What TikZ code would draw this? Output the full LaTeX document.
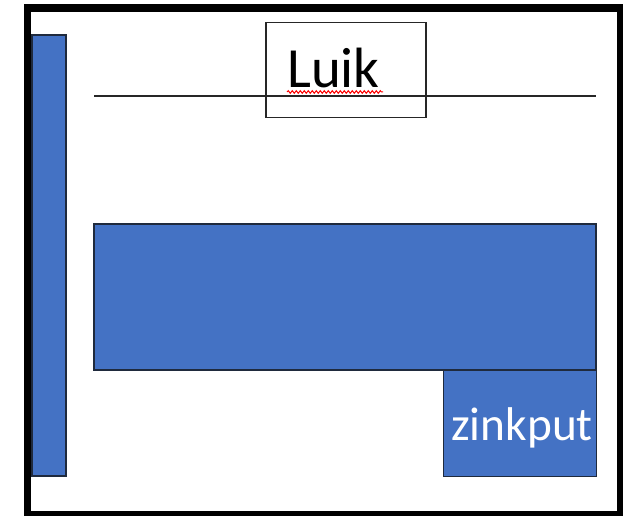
\documentclass[tikz,border=0pt]{standalone}
\usepackage{fontspec}
\setmainfont{Carlito}
\usetikzlibrary{decorations.pathmorphing}
\definecolor{blu}{HTML}{4472C4}
\definecolor{edge}{HTML}{1F2A3D}
\begin{document}
\begin{tikzpicture}[x=1bp,y=-1bp,
  bluebox/.style={fill=blu,draw=edge,line width=1.3bp},
  framebox/.style={draw=black,line width=7.5bp}]
\useasboundingbox (0,0) rectangle (623,516);
\draw[framebox] (27.5,8) rectangle (620.5,515);
\draw[bluebox] (32,35) rectangle (66,476);
\draw[bluebox] (94,224) rectangle (596,370);
\node[bluebox,minimum width=153bp,minimum height=106bp,inner sep=0pt,anchor=north west] (zink) at (443,370) {};
\node[anchor=base,text=white,font=\fontsize{47.5}{50}\selectfont,inner sep=0pt] (zt) at (522,440) {zinkput};
\coordinate (la) at (94,96);
\coordinate (lb) at (596,96);
\draw[line width=1.3bp,black!85] (la) -- (lb);
\node[draw=black!85,line width=1.5bp,minimum width=160bp,minimum height=95bp,inner sep=0pt,anchor=north west] (luikbox) at (265,22) {};
\node[anchor=base west,font=\fontsize{57}{60}\selectfont,inner sep=0pt] (luik) at (287,88) {Luik};
\coordinate (sa) at (287,92);
\coordinate (sb) at (383,92);
\draw[red,line width=1bp,decorate,decoration={snake,amplitude=1.3bp,segment length=4bp}] (sa) -- (sb);
\end{tikzpicture}
\end{document}
